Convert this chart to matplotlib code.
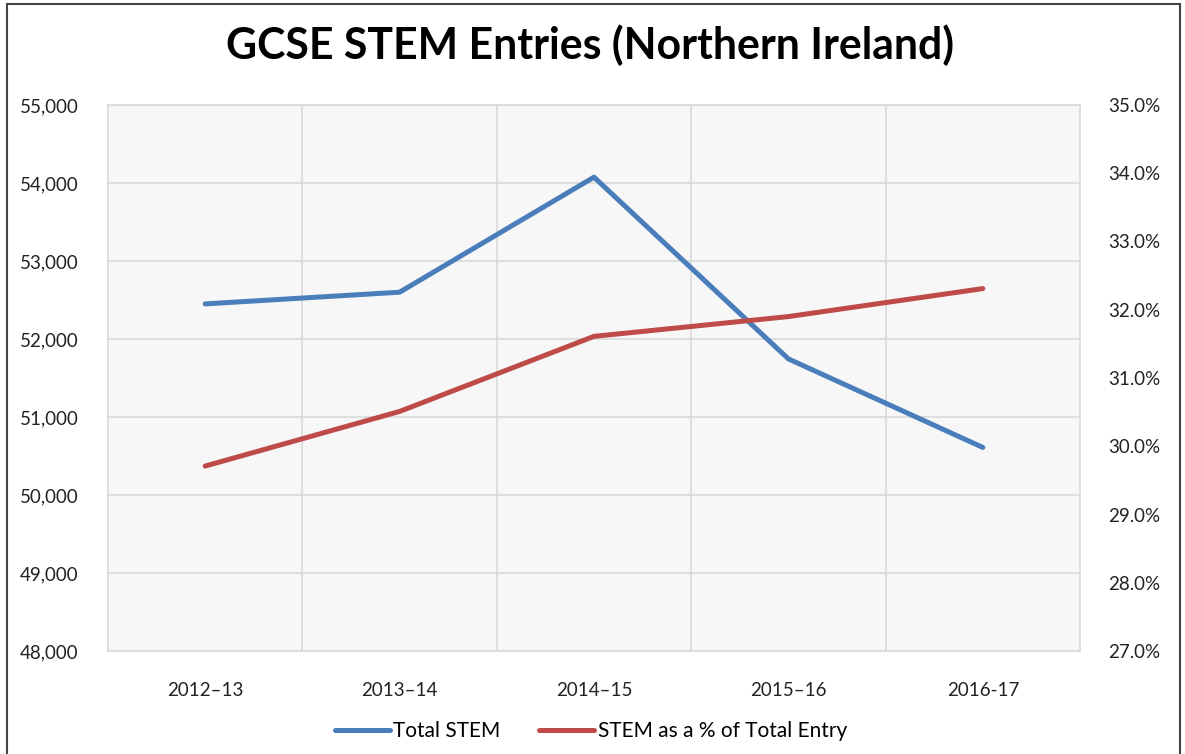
import matplotlib
matplotlib.use("Agg")
import matplotlib.pyplot as plt
from matplotlib.ticker import FuncFormatter, FixedLocator
from matplotlib.patches import Rectangle

years = ["2012\u201313", "2013\u201314", "2014\u201315", "2015\u201316", "2016-17"]
total_stem = [52450, 52600, 54075, 51745, 50610]
stem_pct = [29.71, 30.51, 31.61, 31.90, 32.31]

plt.rcParams['font.family'] = ['Lato', 'DejaVu Sans']

fig = plt.figure(figsize=(11.85, 7.54), dpi=100)
ax = fig.add_axes([108/1185, 1-651/754, (1080-108)/1185, (651-105)/754])
ax.set_facecolor('#f7f7f7')
x = list(range(len(years)))
l1, = ax.plot(x, total_stem, color='#4a7ebb', lw=3.6, solid_capstyle='round', zorder=3, label='Total STEM')
ax.set_xlim(-0.5, len(years)-0.5)
ax.set_ylim(48000, 55000)
ax.set_yticks(range(48000, 55001, 1000))
ax.yaxis.set_major_formatter(FuncFormatter(lambda v, p: f"{int(v):,}"))
ax.set_xticks(x)
ax.set_xticklabels(years)
ax.xaxis.set_minor_locator(FixedLocator([i+0.5 for i in range(len(years)-1)]))
ax.grid(True, which='major', axis='y', color='#d9d9d9', lw=1.2)
ax.grid(True, which='minor', axis='x', color='#d9d9d9', lw=1.2)
ax.set_axisbelow(True)
ax.tick_params(axis='both', which='both', length=0, labelsize=13.5, colors='#222222')
ax.tick_params(axis='y', pad=21)
ax.tick_params(axis='x', pad=22)
for s in ax.spines.values():
    s.set_color('#d9d9d9')
    s.set_linewidth(1.2)

ax2 = ax.twinx()
l2, = ax2.plot(x, stem_pct, color='#be4b48', lw=3.6, solid_capstyle='round', zorder=3, label='STEM as a % of Total Entry')
ax2.set_ylim(27, 35)
ax2.set_yticks(range(27, 36))
ax2.yaxis.set_major_formatter(FuncFormatter(lambda v, p: f"{v:.1f}%"))
ax2.tick_params(axis='y', length=0, labelsize=13.5, colors='#222222', pad=20)
for s in ax2.spines.values():
    s.set_visible(False)

fig.text(590/1185, 1-45/754, "GCSE STEM Entries (Northern Ireland)", ha='center', va='center',
         fontsize=30.8, fontweight='bold', color='black')

fig.legend(handles=[l1, l2], loc='center', bbox_to_anchor=(591/1185, 1-731/754), ncol=2,
           frameon=False, fontsize=15, handlelength=2.64, columnspacing=1.87, handletextpad=0.15)

fig.patches.append(Rectangle((7/1185, -0.01), (1180-7)/1185, 1.0+0.005, transform=fig.transFigure,
                             fill=False, edgecolor='#444444', lw=1.5))

fig.savefig("out.png", dpi=100, facecolor='white')
